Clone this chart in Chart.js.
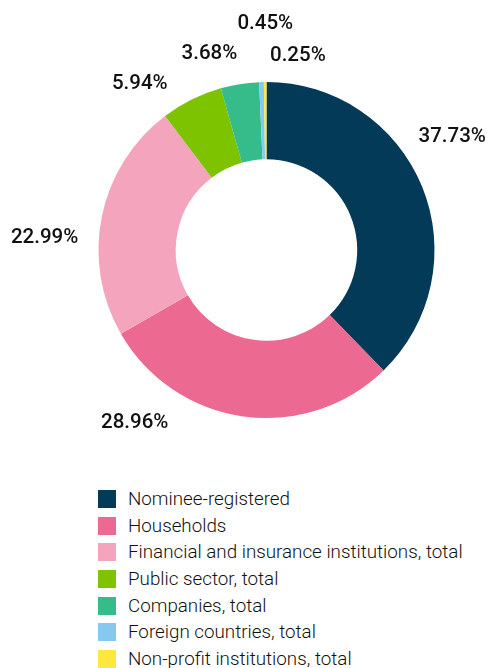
<!DOCTYPE html>
<html>
<head>
<meta charset="utf-8">
<script src="https://cdn.jsdelivr.net/npm/chart.js@4/dist/chart.umd.min.js"></script>
<style>
  html, body { margin: 0; padding: 0; background: #ffffff; }
  #wrap { position: relative; width: 489px; height: 668px; overflow: hidden; }
  #chartBox { position: absolute; left: 0; top: 0; width: 489px; height: 470px; }
  #legend { position: absolute; left: 98px; top: 485.7px; font-family: Roboto, sans-serif; font-size: 18.8px; font-weight: 300; color: #111; }
  #legend .item { display: flex; align-items: center; height: 26.67px; white-space: nowrap; }
  #legend .box { width: 18px; height: 18px; margin-right: 12px; flex: none; }
</style>
</head>
<body>
<div id="wrap">
  <div id="chartBox"><canvas id="c" width="489" height="470"></canvas></div>
  <div id="legend"></div>
</div>
<script>
const categories = [
  "Nominee-registered",
  "Households",
  "Financial and insurance institutions, total",
  "Public sector, total",
  "Companies, total",
  "Foreign countries, total",
  "Non-profit institutions, total"
];
const shares = [37.73, 28.96, 22.99, 5.94, 3.68, 0.45, 0.25];
const valueLabels = ["37.73%", "28.96%", "22.99%", "5.94%", "3.68%", "0.45%", "0.25%"];
const colors = ["#023a57", "#ec6a92", "#f4a5bd", "#7dc300", "#35bc8a", "#87c9ee", "#ffe83d"];

// label nudges (px) relative to a radial anchor outside each slice
const labelNudges = [[-7,-35],[-103,-33],[-18,29],[-34,20],[-24,9],[5,-18],[33,14]];

const outsideLabels = {
  id: 'outsideLabels',
  afterDatasetsDraw(chart) {
    const ctx = chart.ctx;
    const meta = chart.getDatasetMeta(0);
    ctx.save();
    ctx.font = '500 20.5px Roboto, sans-serif';
    ctx.fillStyle = '#111';
    ctx.textAlign = 'center';
    ctx.textBaseline = 'middle';
    meta.data.forEach((arc, i) => {
      const p = arc.getProps(['x','y','startAngle','endAngle','outerRadius'], true);
      const mid = (p.startAngle + p.endAngle) / 2;
      const r = p.outerRadius + 40;
      const x = p.x + Math.cos(mid) * r + labelNudges[i][0];
      const y = p.y + Math.sin(mid) * r + labelNudges[i][1];
      ctx.fillText(valueLabels[i], x, y);
    });
    ctx.restore();
  }
};

const chart = new Chart(document.getElementById('c'), {
  type: 'doughnut',
  data: {
    labels: categories,
    datasets: [{
      data: shares,
      backgroundColor: colors,
      borderWidth: 0
    }]
  },
  options: {
    responsive: false,
    animation: false,
    cutout: '54%',
    layout: { padding: { top: 82, bottom: 52, left: 98, right: 54 } },
    plugins: {
      legend: { display: false },
      tooltip: { enabled: false }
    }
  },
  plugins: [outsideLabels]
});

const legendEl = document.getElementById('legend');
chart.data.labels.forEach((lab, i) => {
  const item = document.createElement('div');
  item.className = 'item';
  const box = document.createElement('span');
  box.className = 'box';
  box.style.background = chart.data.datasets[0].backgroundColor[i];
  const txt = document.createElement('span');
  txt.textContent = lab;
  item.appendChild(box);
  item.appendChild(txt);
  legendEl.appendChild(item);
});
</script>
</body>
</html>
